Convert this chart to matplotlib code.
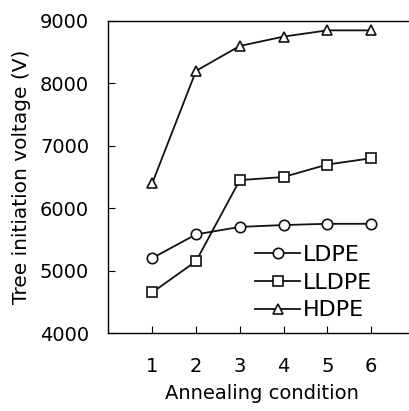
import matplotlib
matplotlib.use("Agg")
import matplotlib.pyplot as plt

conditions = [1, 2, 3, 4, 5, 6]
ldpe = [5200, 5580, 5700, 5730, 5750, 5750]
lldpe = [4650, 5150, 6450, 6500, 6700, 6800]
hdpe = [6400, 8200, 8600, 8750, 8850, 8850]
yticks = [4000, 5000, 6000, 7000, 8000, 9000]

plt.rcParams['font.family'] = ['DejaVu Sans']
W, H = 409, 411
fig = plt.figure(figsize=(W/100, H/100), dpi=100)
left, right, top, bottom = 108.5, 414.8, 21, 333
ax = fig.add_axes([left/W, 1 - bottom/H, (right-left)/W, (bottom-top)/H])

kw = dict(color='#111111', lw=1.3, markersize=7.5, markerfacecolor='white', markeredgewidth=1.2)
ax.plot(conditions, ldpe, marker='o', label='LDPE', **kw)
ax.plot(conditions, lldpe, marker='s', label='LLDPE', **kw)
ax.plot(conditions, hdpe, marker='^', label='HDPE', **kw)

ax.set_xlim(0, 7)
ax.set_ylim(4000, 9000)
ax.set_xticks(conditions)
ax.set_yticks(yticks)
ax.tick_params(axis='x', direction='in', length=5, pad=17, labelsize=14)
ax.tick_params(axis='y', direction='in', length=5, pad=14, labelsize=14)
for s in ax.spines.values():
    s.set_linewidth(1.0)
ax.set_xlabel('Annealing condition', fontsize=14, labelpad=6)
ax.set_ylabel('Tree initiation voltage (V)', fontsize=14.5, labelpad=6)

leg = ax.legend(loc='lower left', bbox_to_anchor=(138/306.3, 0.012), frameon=False,
                fontsize=16, handlelength=2.0, handletextpad=0.15, labelspacing=0.35,
                borderaxespad=0)

fig.savefig('out.png', dpi=100)
